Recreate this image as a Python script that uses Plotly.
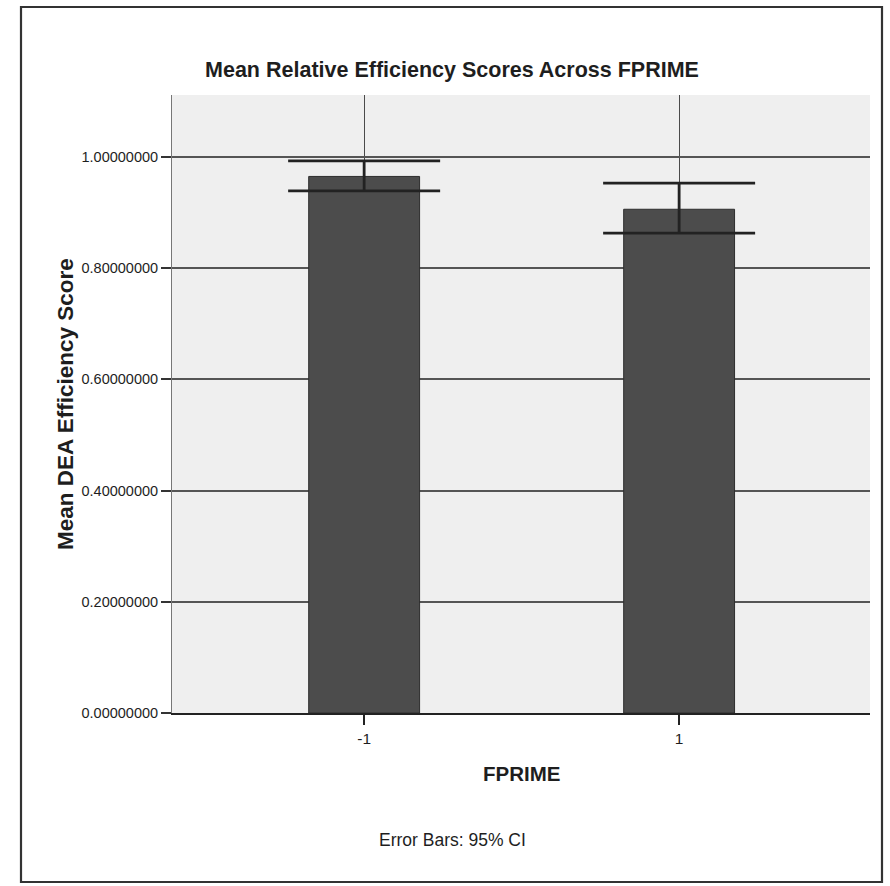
import plotly.graph_objects as go

# Group means of the DEA efficiency score with 95% confidence limits
categories = ["-1", "1"]
mean_scores = [0.965, 0.906]
ci_upper = [0.993, 0.953]
ci_lower = [0.939, 0.863]
y_ticks = [0.0, 0.2, 0.4, 0.6, 0.8, 1.0]

err_plus = [u - m for u, m in zip(ci_upper, mean_scores)]
err_minus = [m - l for m, l in zip(mean_scores, ci_lower)]

FONT = "Liberation Sans, Arial, sans-serif"
INK = "#1e1e1e"

fig = go.Figure()
fig.add_trace(go.Bar(
    x=categories,
    y=mean_scores,
    width=0.352,
    marker=dict(color="#4c4c4c", line=dict(color="#2e2e2e", width=1)),
    error_y=dict(
        type="data",
        symmetric=False,
        array=err_plus,
        arrayminus=err_minus,
        color="#222222",
        thickness=2.8,
        width=76,
    ),
    showlegend=False,
))

fig.update_layout(
    width=890,
    height=886,
    margin=dict(l=172, r=20, t=95, b=173),
    paper_bgcolor="white",
    plot_bgcolor="#efefef",
    font=dict(family=FONT, color=INK),
    title=dict(
        text="<b>Mean Relative Efficiency Scores Across FPRIME</b>",
        font=dict(family=FONT, size=21.5, color=INK),
        x=452 / 890, xref="container", xanchor="center",
        y=1 - 69 / 886, yref="container", yanchor="middle",
    ),
    xaxis=dict(
        type="category",
        range=[-0.61, 1.606],
        showgrid=True,
        gridcolor="#4a4a4a",
        gridwidth=1.4,
        showline=True,
        linecolor="#222222",
        linewidth=2,
        ticks="outside",
        ticklen=10,
        tickwidth=2,
        tickcolor="#222222",
        tickfont=dict(family=FONT, size=15.5, color=INK),
        zeroline=False,
    ),
    yaxis=dict(
        range=[0, 1.1115],
        tickvals=y_ticks,
        tickformat=".8f",
        showgrid=True,
        gridcolor="#555555",
        gridwidth=1.6,
        showline=True,
        linecolor="#777777",
        linewidth=1,
        ticks="outside",
        ticklen=10,
        tickwidth=1.5,
        tickcolor="#333333",
        tickfont=dict(family=FONT, size=14.5, color=INK),
        zeroline=False,
    ),
)

# Axis titles and the footnote
fig.add_annotation(
    text="<b>FPRIME</b>", xref="paper", yref="paper",
    x=0.5, y=(713 - 773) / 618, xanchor="center", yanchor="middle",
    showarrow=False, font=dict(family=FONT, size=20.5, color=INK),
)
fig.add_annotation(
    text="<b>Mean DEA Efficiency Score</b>", xref="paper", yref="paper",
    x=(65 - 172) / 698, y=0.5, xanchor="center", yanchor="middle",
    textangle=-90, showarrow=False, font=dict(family=FONT, size=22.5, color=INK),
)
fig.add_annotation(
    text="Error Bars: 95% CI", xref="paper", yref="paper",
    x=(452 - 172) / 698, y=(713 - 840) / 618, xanchor="center", yanchor="middle",
    showarrow=False, font=dict(family=FONT, size=17.5, color=INK),
)

# Outer frame around the whole chart
fig.add_shape(
    type="rect", xref="paper", yref="paper",
    x0=(21 - 172) / 698, x1=(882 - 172) / 698,
    y0=(713 - 882) / 618, y1=(713 - 7) / 618,
    line=dict(color="#333333", width=2.2), fillcolor="rgba(0,0,0,0)",
)

fig.write_html("out.html")
